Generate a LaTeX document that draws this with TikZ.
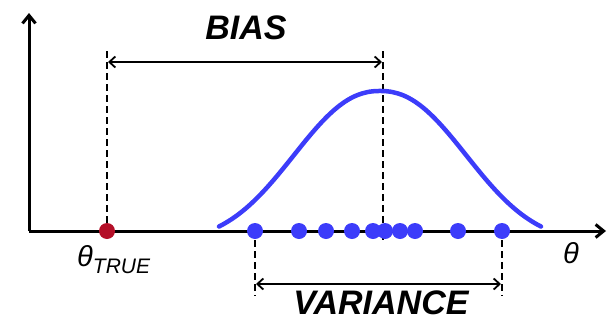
\documentclass[tikz,border=0pt]{standalone}
\usepackage{fontspec}
\setmainfont{Liberation Sans}
\usetikzlibrary{arrows.meta}
\begin{document}
\begin{tikzpicture}[x=1pt,y=-1pt,
  axis/.style={line width=3pt,-{Straight Barb[length=8pt,width=13pt,line width=3pt]}},
  dim/.style={line width=1.8pt,{Straight Barb[length=6pt,width=11pt,line width=1.8pt]}-{Straight Barb[length=6pt,width=11pt,line width=1.8pt]}},
  guide/.style={line width=1.6pt,dash pattern=on 7pt off 4pt},
  bluedot/.style={circle,fill={rgb,255:red,60;green,60;blue,250},inner sep=0pt,minimum size=16pt},
  lbl/.style={font=\fontsize{34}{34}\selectfont\bfseries\itshape,inner sep=0pt}]
\useasboundingbox (0,0) rectangle (607,324);
% axes
\coordinate (o) at (29,231);
\coordinate (xend) at (606,231);
\coordinate (yend) at (29,13);
\draw[axis] (o) -- (xend);
\draw[axis] (o) -- (yend);
% guides
\coordinate (bl) at (107,51);
\coordinate (bc) at (383,51);
\coordinate (bcb) at (383,240);
\draw[guide] (bl) -- (107,231);
\draw[guide] (bc) -- (bcb);
\draw[guide] (255,240) -- (255,296);
\draw[guide] (502,240) -- (502,296);
% bias arrow
\coordinate (b1) at (108,62);
\coordinate (b2) at (382,62);
\draw[dim] (b1) -- (b2);
\node[lbl] (bias) at (246,28) {BIAS};
% variance arrow
\coordinate (v1) at (256,284);
\coordinate (v2) at (501,284);
\draw[dim] (v1) -- (v2);
\node[lbl] (var) at (381,303) {VARIANCE};
% curve
\draw[line width=4.5pt,color={rgb,255:red,60;green,60;blue,250},line cap=round,line join=round]
  plot[domain=219:541,samples=161] (\x,{227-136*(exp(-((abs(\x-380)+0.01)/112.5)^2.24)-0.104)/0.896});
% dots
\foreach \px/\nm in {255/d1,299/d2,326/d3,352/d4,373/d5,385/d6,400/d7,415/d8,458/d9,502/d10}
  \node[bluedot] (\nm) at (\px,231) {};
\node[circle,fill={rgb,255:red,180;green,15;blue,40},inner sep=0pt,minimum size=16pt] (tt) at (107,231) {};
% labels
\node[font=\fontsize{29}{29}\selectfont\itshape,inner sep=0pt] (th) at (571,253) {θ};
\node[inner sep=0pt,anchor=base west] (tht) at (77,266) {\fontsize{29}{29}\selectfont\itshape θ\raisebox{-7pt}{\fontsize{21}{21}\selectfont TRUE}};
\end{tikzpicture}
\end{document}
